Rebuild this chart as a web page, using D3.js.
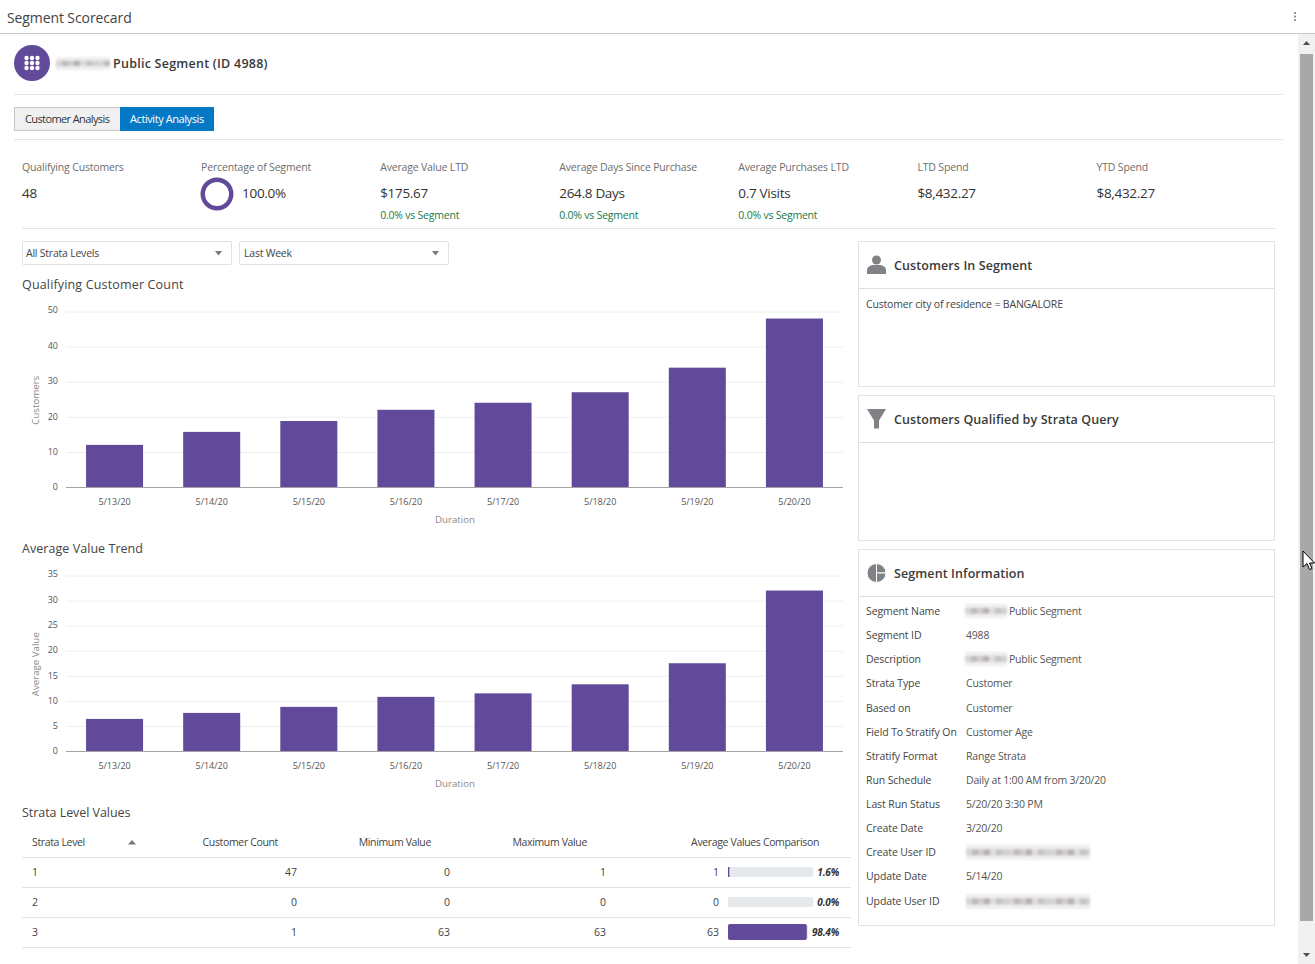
<!DOCTYPE html>
<html>
<head>
<meta charset="utf-8">
<script src="https://cdn.jsdelivr.net/npm/d3@7"></script>
<style>
  html, body { margin: 0; padding: 0; background: #fff; overflow: hidden; }
  svg { display: block; font-family: "Open Sans", sans-serif; }
  .domain { display: none; }
</style>
</head>
<body>
<svg id="page" width="1315" height="964"></svg>
<script>
const days = ['5/13/20', '5/14/20', '5/15/20', '5/16/20', '5/17/20', '5/18/20', '5/19/20', '5/20/20']
const customerCounts = [12, 15.7, 18.8, 22, 24, 27, 34, 48]
const averageValues = [6.4, 7.6, 8.8, 10.8, 11.5, 13.3, 17.5, 32]
const countTicks = [0, 10, 20, 30, 40, 50]
const averageTicks = [0, 5, 10, 15, 20, 25, 30, 35]

const kpiLabels = ['Qualifying Customers', 'Percentage of Segment', 'Average Value LTD', 'Average Days Since Purchase', 'Average Purchases LTD', 'LTD Spend', 'YTD Spend']
const kpiValues = ['48', '100.0%', '$175.67', '264.8 Days', '0.7 Visits', '$8,432.27', '$8,432.27']
const kpiNotes = ['', '', '0.0% vs Segment', '0.0% vs Segment', '0.0% vs Segment', '', '']

const strataLevels = ['1', '2', '3']
const strataCounts = [47, 0, 1]
const strataMins = [0, 0, 63]
const strataMaxs = [1, 0, 63]
const strataAverages = [1, 0, 63]
const strataShares = [1.6, 0.0, 98.4]

const infoLabels = ['Segment Name', 'Segment ID', 'Description', 'Strata Type', 'Based on', 'Field To Stratify On', 'Stratify Format', 'Run Schedule', 'Last Run Status', 'Create Date', 'Create User ID', 'Update Date', 'Update User ID']
const infoValues = ['Public Segment', '4988', 'Public Segment', 'Customer', 'Customer', 'Customer Age', 'Range Strata', 'Daily at 1:00 AM from 3/20/20', '5/20/20 3:30 PM', '3/20/20', '', '5/14/20', '']
const infoRowY = [611, 635, 659, 683, 708, 732, 756, 780, 804, 828, 852, 876, 901]

const purple = '#614a99'
const smudgeShades = ['#d8d4d6', '#bdb9be', '#cfccc9', '#b4b1b6', '#dedbdc', '#c4c2c6', '#d2d0d3']
const svg = d3.select('#page')

const defs = svg.append('defs')
defs.append('filter').attr('id', 'smudge')
  .attr('x', '-10%').attr('y', '-40%').attr('width', '120%').attr('height', '180%')
  .append('feGaussianBlur').attr('stdDeviation', 0.9)

function label(parent, x, y, str, size, fill, opts = {}) {
  return parent.append('text')
    .attr('x', x).attr('y', y)
    .attr('dy', '0.35em')
    .attr('font-size', size)
    .attr('fill', fill)
    .attr('text-anchor', opts.anchor || 'start')
    .attr('font-weight', opts.weight || 400)
    .attr('font-style', opts.style || 'normal')
    .attr('letter-spacing', opts.spacing || 0)
    .text(str)
}

function hline(x1, x2, y, color) {
  svg.append('line').attr('x1', x1).attr('x2', x2).attr('y1', y + 0.5).attr('y2', y + 0.5)
    .attr('stroke', color)
}

// blurred-out names in the screenshot
function redacted(x, y, w, h) {
  const g = svg.append('g').attr('filter', 'url(#smudge)')
  g.append('rect').attr('x', x).attr('y', y).attr('width', w).attr('height', h).attr('fill', '#f0eeef')
  d3.range(0, w - 2, 6).forEach((dx, i) => {
    g.append('rect').attr('x', x + dx).attr('y', y + h * 0.28).attr('width', Math.min(6, w - dx))
      .attr('height', h * 0.42).attr('fill', smudgeShades[i % smudgeShades.length])
  })
}

function drawHeader() {
  label(svg, 7, 18, 'Segment Scorecard', 14, '#444', { spacing: -0.1 })
  hline(0, 1315, 33, '#c8c8c8')
  d3.range(3).forEach(i => {
    svg.append('circle').attr('cx', 1295).attr('cy', 13 + i * 3.5).attr('r', 1).attr('fill', '#777')
  })

  svg.append('circle').attr('cx', 32).attr('cy', 63).attr('r', 18).attr('fill', purple)
  d3.cross(d3.range(3), d3.range(3)).forEach(([a, b]) => {
    svg.append('circle').attr('cx', 26.5 + a * 5.5).attr('cy', 58 + b * 5).attr('r', 2.2).attr('fill', '#fff')
  })
  redacted(56, 57, 54, 13)
  label(svg, 113, 63.5, 'Public Segment (ID 4988)', 12.5, '#3a3a3a', { weight: 600, spacing: 0.25 })
  hline(14, 1283, 94, '#e6e6e6')

  svg.append('rect').attr('x', 14.5).attr('y', 107.5).attr('width', 106).attr('height', 23)
    .attr('fill', '#f0f0f0').attr('stroke', '#c6c6c6')
  label(svg, 25, 119, 'Customer Analysis', 11, '#333', { spacing: -0.6 })
  svg.append('rect').attr('x', 120).attr('y', 107).attr('width', 94).attr('height', 24).attr('fill', '#0679c6')
  label(svg, 130, 119, 'Activity Analysis', 11, '#fff', { spacing: -0.42 })
  hline(14, 1283, 139, '#e6e6e6')
}

function drawKpis() {
  const kpiX = d3.scalePoint().domain(d3.range(kpiLabels.length)).range([22, 1096.5])
  kpiLabels.forEach((name, i) => {
    const x = kpiX(i)
    label(svg, x, 167, name, 10.5, '#6d6d6d', { spacing: -0.17 })
    const valueX = i === 1 ? x + 41 : x
    label(svg, valueX, 193.5, kpiValues[i], 13.5, '#333', { spacing: -0.3 })
    if (kpiNotes[i]) label(svg, x, 215, kpiNotes[i], 10.5, '#19794b', { spacing: -0.22 })
  })

  // percentage ring
  const arc = d3.arc().innerRadius(12).outerRadius(16.5)
  const pie = d3.pie().sort(null)
  svg.append('g').attr('transform', 'translate(217,194)')
    .selectAll('path').data(pie([100])).join('path')
    .attr('d', arc).attr('fill', purple)

  hline(22, 1276, 228, '#e6e6e6')
}

function drawFilters() {
  const boxes = [[22, 210, 'All Strata Levels', 4], [239, 210, 'Last Week', 5]]
  boxes.forEach(([x, w, str, inset]) => {
    svg.append('rect').attr('x', x + 0.5).attr('y', 241.5).attr('width', w - 1).attr('height', 23)
      .attr('fill', '#fff').attr('stroke', '#dfe1e4').attr('rx', 1)
    label(svg, x + inset, 253, str, 10.5, '#444', { spacing: -0.22 })
    svg.append('path').attr('d', `M${x + 193},251h7l-3.5,4.5z`).attr('fill', '#777')
  })
}

function drawBarChart(top, title, titleSpacing, values, maxValue, ticks, yTitle) {
  const baseY = top + 177
  const topY = top + 1.5
  const x = d3.scaleBand().domain(days).range([66, 843]).paddingInner(0.413).paddingOuter(0.2065)
  const y = d3.scaleLinear().domain([0, maxValue]).range([baseY, topY])

  label(svg, 22, top - 25, title, 12.5, '#444', { spacing: titleSpacing })

  const yAxis = svg.append('g').attr('transform', 'translate(66,0)')
    .call(d3.axisLeft(y).tickValues(ticks).tickSize(-777).tickPadding(8))
  yAxis.selectAll('.tick line').attr('stroke', '#eeeeee')
  // labels sit a little higher than their grid lines towards the top of the chart
  yAxis.selectAll('.tick text').attr('font-size', 9).attr('fill', '#555')
    .attr('font-family', '"Open Sans", sans-serif').attr('y', d => -1.5 * d / maxValue)

  svg.append('g').selectAll('rect').data(values).join('rect')
    .attr('x', (d, i) => x(days[i]))
    .attr('y', d => y(d))
    .attr('width', x.bandwidth())
    .attr('height', d => baseY - y(d))
    .attr('fill', purple)

  const xAxis = svg.append('g').attr('transform', `translate(0,${baseY})`)
    .call(d3.axisBottom(x).tickSize(0).tickPadding(12))
  xAxis.selectAll('.tick text').attr('font-size', 9).attr('fill', '#555').attr('font-family', '"Open Sans", sans-serif')
  hline(66, 843, baseY, '#a3a3a3')

  svg.append('text').attr('transform', `translate(36,${(baseY + topY) / 2 + 1}) rotate(-90)`)
    .attr('text-anchor', 'middle').attr('dy', '0.35em')
    .attr('font-size', 9.7).attr('fill', '#8a8a8a').text(yTitle)
  label(svg, 455, baseY + 32.5, 'Duration', 9.7, '#8a8a8a', { anchor: 'middle' })
}

function drawStrataTable() {
  label(svg, 22, 813, 'Strata Level Values', 12.5, '#444', { spacing: -0.05 })
  const rowY = d3.scalePoint().domain(strataLevels).range([872, 932])
  const bar = d3.scaleLinear().domain([0, 100])

  const headSpacing = -0.35
  label(svg, 32, 842, 'Strata Level', 10.5, '#444', { spacing: headSpacing })
  svg.append('path').attr('d', 'M128,844.5h8l-4,-4.5z').attr('fill', '#777')
  label(svg, 278, 842, 'Customer Count', 10.5, '#444', { anchor: 'end', spacing: headSpacing })
  label(svg, 431, 842, 'Minimum Value', 10.5, '#444', { anchor: 'end', spacing: headSpacing })
  label(svg, 587, 842, 'Maximum Value', 10.5, '#444', { anchor: 'end', spacing: headSpacing })
  label(svg, 819, 842, 'Average Values Comparison', 10.5, '#444', { anchor: 'end', spacing: headSpacing })
  hline(22, 851, 857, '#e2e2e2')

  strataLevels.forEach((level, i) => {
    const y = rowY(level)
    label(svg, 32, y, level, 10.5, '#444')
    label(svg, 297, y, strataCounts[i], 10.5, '#444', { anchor: 'end' })
    label(svg, 450, y, strataMins[i], 10.5, '#444', { anchor: 'end' })
    label(svg, 606, y, strataMaxs[i], 10.5, '#444', { anchor: 'end' })
    label(svg, 719, y, strataAverages[i], 10.5, '#444', { anchor: 'end' })
    const pct = label(svg, 839, y, strataShares[i].toFixed(1) + '%', 10, '#333', { anchor: 'end', weight: 700, style: 'italic', spacing: -0.2 })

    // the track gives way to the percentage text, so wider text shortens it
    const trackEnd = 839 - pct.node().getComputedTextLength() - 4
    bar.range([0, trackEnd - 728])
    const barH = strataShares[i] > 50 ? 16 : 10
    svg.append('rect').attr('x', 728).attr('y', y - barH / 2).attr('width', trackEnd - 728).attr('height', barH)
      .attr('rx', 2).attr('fill', '#e6e9eb')
    svg.append('rect').attr('x', 728).attr('y', y - barH / 2).attr('width', bar(strataShares[i])).attr('height', barH)
      .attr('rx', strataShares[i] > 50 ? 2 : 0).attr('fill', purple)
    hline(22, 851, y + 15, '#e2e2e2')
  })
}

function panel(top, height, title) {
  svg.append('rect').attr('x', 858.5).attr('y', top + 0.5).attr('width', 416).attr('height', height - 1)
    .attr('fill', '#fff').attr('stroke', '#e0e3e6')
  hline(859, 1274, top + 47, '#d9dfe6')
  label(svg, 894, top + 24.5, title, 12.5, '#3a3a3a', { weight: 600, spacing: 0.1 })
}

function drawPanels() {
  const grey = '#808285'
  panel(241, 146, 'Customers In Segment')
  svg.append('circle').attr('cx', 876.5).attr('cy', 260).attr('r', 4.5).attr('fill', grey)
  svg.append('path').attr('d', 'M867,274v-4q0,-3.5 5,-5h9q5,1.5 5,5v4z').attr('fill', grey)
  label(svg, 866, 304, 'Customer city of residence = BANGALORE', 10.5, '#444', { spacing: -0.17 })

  panel(395, 146, 'Customers Qualified by Strata Query')
  svg.append('path').attr('d', 'M867,409h19l-7,11.5v8h-5v-8z').attr('fill', grey)

  panel(549, 377, 'Segment Information')
  const slices = d3.pie().sort(null).startAngle(0).endAngle(2 * Math.PI)([25, 25, 50])
  const iconArc = d3.arc().innerRadius(0).outerRadius(9.5)
  svg.append('g').attr('transform', 'translate(876.5,573)')
    .selectAll('path').data(slices).join('path').attr('d', iconArc)
    .attr('fill', grey).attr('stroke', '#fff').attr('stroke-width', 1)

  infoLabels.forEach((name, i) => {
    label(svg, 866, infoRowY[i], name, 10.5, '#444', { spacing: -0.1 })
    if (infoValues[i]) {
      const isName = infoValues[i] === 'Public Segment'
      label(svg, isName ? 1009 : 966, infoRowY[i], infoValues[i], 10.5, '#555', { spacing: -0.2 })
      if (isName) redacted(965, infoRowY[i] - 7, 42, 14)
    } else {
      redacted(966, infoRowY[i] - 7, 124, 15)
    }
  })
}

function drawScrollbar() {
  svg.append('rect').attr('x', 1298).attr('y', 34).attr('width', 17).attr('height', 930).attr('fill', '#f1f1f1')
  svg.append('rect').attr('x', 1300).attr('y', 54).attr('width', 13).attr('height', 867).attr('fill', '#a8a8a8')
  svg.append('path').attr('d', 'M1303,45h7l-3.5,-4z').attr('fill', '#505050')
  svg.append('path').attr('d', 'M1303,953h7l-3.5,4z').attr('fill', '#505050')
  svg.append('path').attr('d', 'M1303,551v16l4,-3.5l2.5,6l2.5,-1l-2.5,-5.5h5z')
    .attr('fill', '#fff').attr('stroke', '#000').attr('stroke-width', 1)
}

drawHeader()
drawKpis()
drawFilters()
drawBarChart(310, 'Qualifying Customer Count', 0.16, customerCounts, 50, countTicks, 'Customers')
drawBarChart(574, 'Average Value Trend', 0.05, averageValues, 35, averageTicks, 'Average Value')
drawStrataTable()
drawPanels()
drawScrollbar()
</script>
</body>
</html>
